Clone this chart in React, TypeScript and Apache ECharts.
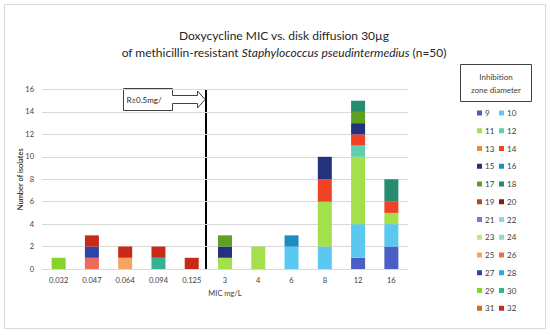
import React, { useEffect, useRef } from "react";
import * as echarts from "echarts";

const categories = ["0.032", "0.047", "0.064", "0.094", "0.125", "3", "4", "6", "8", "12", "16"];
const yTicks = [0, 2, 4, 6, 8, 10, 12, 14, 16];

const zones = ["9", "10", "11", "12", "13", "14", "15", "16", "17", "18", "19", "20",
  "21", "22", "23", "24", "25", "26", "27", "28", "29", "30", "31", "32"];

const zoneColors = ["#4a5fc4", "#5ac8f0", "#a3e04c", "#5fcfaf", "#f08a30", "#f04224",
  "#22327f", "#1b8ec0", "#5f9f22", "#288c70", "#b44a18", "#8a1a10",
  "#7080d0", "#88d8f4", "#bce88c", "#90dcc4", "#f6a460", "#ee6a58",
  "#2f45a5", "#2aa8e0", "#86d42a", "#36b292", "#e06a14", "#c92a18"];

// counts per zone diameter, in category order
const zoneCounts: number[][] = [
  [0, 0, 0, 0, 0, 0, 0, 0, 0, 1, 2], // 9
  [0, 0, 0, 0, 0, 0, 0, 2, 2, 3, 2], // 10
  [0, 0, 0, 0, 0, 1, 2, 0, 4, 6, 1], // 11
  [0, 0, 0, 0, 0, 0, 0, 0, 0, 1, 0], // 12
  [0, 0, 0, 0, 0, 0, 0, 0, 0, 0, 0], // 13
  [0, 0, 0, 0, 0, 0, 0, 0, 2, 1, 1], // 14
  [0, 0, 0, 0, 0, 1, 0, 0, 2, 1, 0], // 15
  [0, 0, 0, 0, 0, 0, 0, 1, 0, 0, 0], // 16
  [0, 0, 0, 0, 0, 1, 0, 0, 0, 1, 0], // 17
  [0, 0, 0, 0, 0, 0, 0, 0, 0, 1, 2], // 18
  [0, 0, 0, 0, 0, 0, 0, 0, 0, 0, 0], // 19
  [0, 0, 0, 0, 0, 0, 0, 0, 0, 0, 0], // 20
  [0, 0, 0, 0, 0, 0, 0, 0, 0, 0, 0], // 21
  [0, 0, 0, 0, 0, 0, 0, 0, 0, 0, 0], // 22
  [0, 0, 0, 0, 0, 0, 0, 0, 0, 0, 0], // 23
  [0, 0, 0, 0, 0, 0, 0, 0, 0, 0, 0], // 24
  [0, 0, 1, 0, 0, 0, 0, 0, 0, 0, 0], // 25
  [0, 1, 0, 0, 0, 0, 0, 0, 0, 0, 0], // 26
  [0, 1, 0, 0, 0, 0, 0, 0, 0, 0, 0], // 27
  [0, 0, 0, 0, 0, 0, 0, 0, 0, 0, 0], // 28
  [1, 0, 0, 0, 0, 0, 0, 0, 0, 0, 0], // 29
  [0, 0, 0, 1, 0, 0, 0, 0, 0, 0, 0], // 30
  [0, 0, 0, 0, 0, 0, 0, 0, 0, 0, 0], // 31
  [0, 1, 1, 1, 1, 0, 0, 0, 0, 0, 0], // 32
];

const FONT = "Lato";

export default function App() {
  const ref = useRef<HTMLDivElement>(null);
  useEffect(() => {
    document.body.style.margin = "0";
    const chart = echarts.init(ref.current!, undefined, { renderer: "svg" });
    const legendCommon = {
      orient: "vertical" as const,
      top: 108,
      padding: 0,
      itemWidth: 5,
      itemHeight: 5,
      itemGap: 7.75,
      icon: "rect",
      selectedMode: false,
      textStyle: { fontSize: 8, lineHeight: 10, color: "#404040", fontFamily: FONT, padding: [0, 0, 0, -2] },
    };
    chart.setOption({
      animation: false,
      title: {
        text: "{a|Doxycycline MIC vs. disk diffusion 30µg}\n{a|of methicillin-resistant }{i|Staphylococcus pseudintermedius}{a| (n=50)}",
        left: 279,
        top: 22,
        textAlign: "center",
        textStyle: {
          fontWeight: "normal",
          rich: {
            a: { fontSize: 12, lineHeight: 17, color: "#262626", fontFamily: FONT, fontWeight: "normal" },
            i: { fontSize: 12, lineHeight: 17, color: "#262626", fontFamily: FONT, fontStyle: "italic", fontWeight: "normal" },
          },
        },
      },
      legend: [
        { ...legendCommon, left: 477, data: zones.filter((_, i) => i % 2 === 0) },
        { ...legendCommon, left: 499, data: zones.filter((_, i) => i % 2 === 1) },
      ],
      grid: { left: 42, right: 142, top: 89.5, bottom: 66, containLabel: false },
      xAxis: {
        type: "category",
        data: categories,
        name: "MIC mg/L",
        nameLocation: "middle",
        nameGap: 20,
        nameTextStyle: { fontSize: 7.5, color: "#404040", fontFamily: FONT },
        axisLine: { lineStyle: { color: "#d9d9d9" } },
        axisTick: { show: false },
        axisLabel: { fontSize: 7.5, color: "#404040", margin: 7, fontFamily: FONT },
      },
      yAxis: {
        type: "value",
        min: yTicks[0],
        max: yTicks[yTicks.length - 1],
        interval: 2,
        name: "Number of isolates",
        nameLocation: "middle",
        nameGap: 18,
        nameMoveOverlap: false,
        nameTextStyle: { fontSize: 7.5, color: "#000", fontFamily: FONT },
        axisLine: { show: false },
        axisTick: { show: false },
        splitLine: { lineStyle: { color: "#d9d9d9" } },
        axisLabel: { fontSize: 7.5, color: "#404040", margin: 8, fontFamily: FONT },
      },
      series: zones.map((z, i) => ({
        name: z,
        type: "bar",
        stack: "total",
        barWidth: 14,
        data: zoneCounts[i],
        itemStyle: { color: zoneColors[i] },
      })),
      graphic: [
        {
          type: "rect",
          shape: { x: 4.5, y: 4.5, width: 541, height: 324 },
          style: { fill: "none", stroke: "#d9d9d9", lineWidth: 1 },
          silent: true,
        },
        {
          type: "rect",
          shape: { x: 460.5, y: 64.5, width: 71, height: 37 },
          style: { fill: "#fff", stroke: "#404040", lineWidth: 1 },
        },
        {
          type: "text",
          x: 496,
          y: 83,
          style: {
            text: "Inhibition\nzone diameter",
            align: "center",
            verticalAlign: "middle",
            fontSize: 8,
            lineHeight: 13,
            fill: "#404040",
            fontFamily: FONT,
          },
        },
        {
          type: "polygon",
          shape: {
            points: [
              [123.5, 88.5], [172.5, 88.5], [172.5, 95.5], [197.5, 95.5], [197.5, 91],
              [205, 99.5], [197.5, 108], [197.5, 103.5], [172.5, 103.5], [172.5, 110.5], [123.5, 110.5],
            ],
          },
          style: { fill: "#fff", stroke: "#404040", lineWidth: 1 },
        },
        {
          type: "text",
          x: 144,
          y: 100,
          style: {
            text: "R≥0.5mg/",
            align: "center",
            verticalAlign: "middle",
            fontSize: 8,
            fill: "#262626",
            fontFamily: FONT,
          },
        },
        {
          type: "line",
          shape: { x1: 206, y1: 89, x2: 206, y2: 269 },
          style: { stroke: "#000", lineWidth: 2 },
        },
      ],
    });
    return () => chart.dispose();
  }, []);
  return <div ref={ref} style={{ width: 550, height: 335 }} />;
}
